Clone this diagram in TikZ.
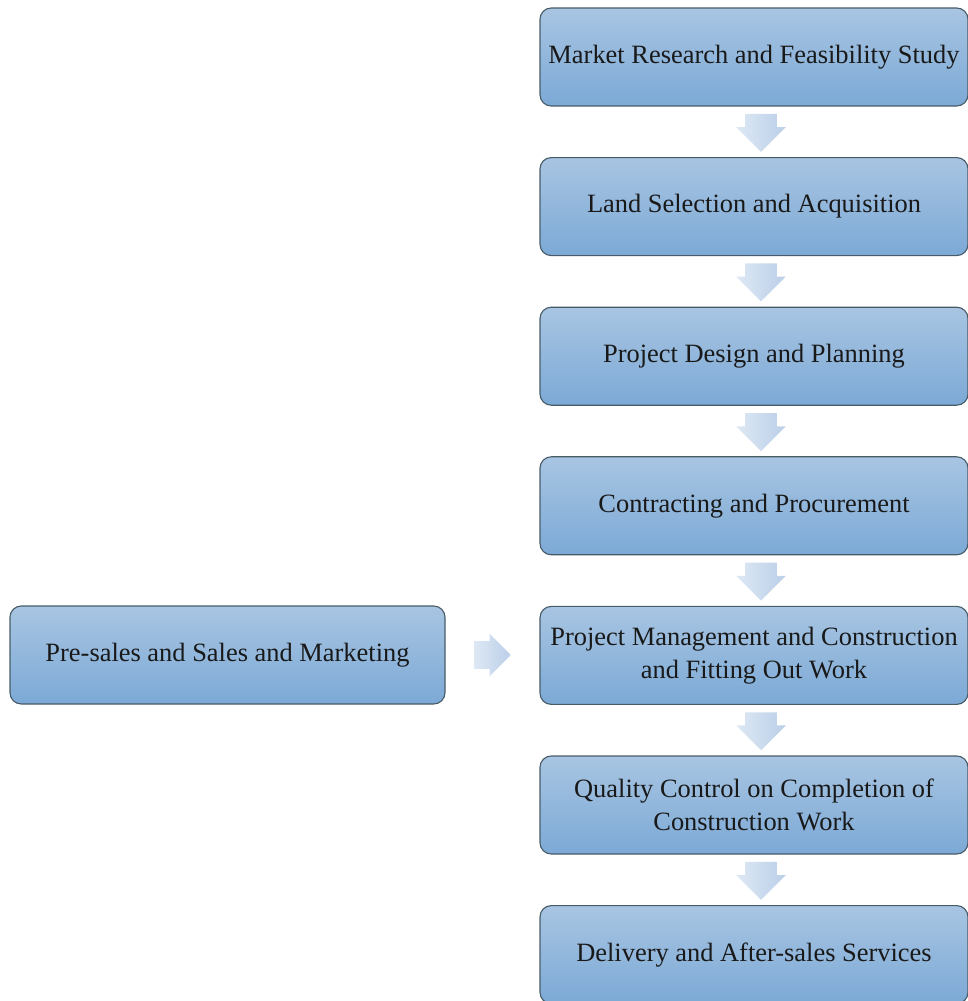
\documentclass[tikz,border=0pt]{standalone}
\usepackage{fontspec}
\setmainfont{Liberation Serif}
\usetikzlibrary{math,calc,shapes.arrows}

\definecolor{boxtop}{RGB}{168,197,226}
\definecolor{boxbottom}{RGB}{124,169,214}
\definecolor{boxline}{RGB}{72,92,104}
\definecolor{arrowlight}{RGB}{222,232,244}
\definecolor{arrowdark}{RGB}{186,207,232}
\newcommand\stagefont{\fontsize{18.8}{23.5}\selectfont}

\begin{document}
\begin{tikzpicture}
\tikzstyle{stage box}=[rectangle, rounded corners=8pt, draw=boxline, line width=0.8pt,
    top color=boxtop, bottom color=boxbottom, inner sep=0pt, minimum width=10.7cm,
    minimum height=2.45cm, align=center, font=\stagefont, text=black!90]
\tikzstyle{side box}=[stage box, minimum width=10.875cm]
\tikzstyle{block arrow}=[single arrow, draw=none, inner xsep=0pt, inner ysep=0.3875cm,
    single arrow head extend=0.225cm, single arrow head indent=0pt, minimum height=0.95cm,
    left color=arrowlight, right color=arrowdark]
\tikzstyle{side arrow}=[block arrow, inner ysep=0.3375cm, single arrow head extend=0.1875cm,
    minimum height=0.925cm]

\useasboundingbox (0,0) rectangle (24.2,-25.025);

% Stages of the right column
\tikzmath{
    \colx = 18.85;
    \topy = -1.425;
    \gap = 3.74;
}

\foreach [count=\i] \txt in {Market Research and Feasibility Study,
    Land Selection and Acquisition,
    Project Design and Planning,
    Contracting and Procurement,
    {Project Management and Construction\\and Fitting Out Work},
    {Quality Control on Completion of\\Construction Work},
    Delivery and After-sales Services} {
        \tikzmath{
            real \sy;
            \sy = \topy - (\i - 1) * \gap;
        }
        \node[stage box] (s\i) at (\colx, \sy) {\txt};
    };

% Down arrows between stages
\foreach \i in {1,...,6}
    \node[block arrow, rotate=-90, anchor=tail] (a\i) at ($(s\i.south)+(0.175,-0.175)$) {};

% Side input
\node[side box] (side) at (5.6875, -16.375) {Pre-sales and Sales and Marketing};

\node[side arrow, anchor=tail] (aside) at ($(side.east)+(0.7,0)$) {};

\end{tikzpicture}
\end{document}
